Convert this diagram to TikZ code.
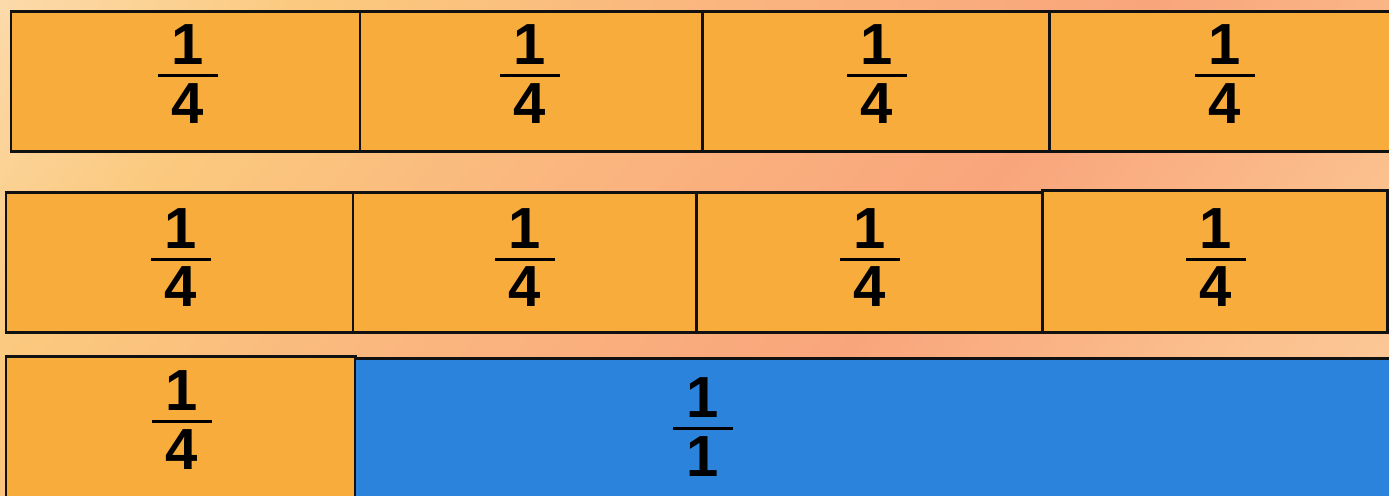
\documentclass[tikz,border=0pt]{standalone}
\usepackage{fontspec}
\setmainfont{Liberation Sans}
\usepackage{xcolor}
\usepackage{tikz}
\usetikzlibrary{positioning,calc}
\definecolor{naranja}{HTML}{F7AC3B}
\definecolor{azul}{HTML}{2B83DC}
\definecolor{borde}{HTML}{111111}
\definecolor{fondoa}{HTML}{FCDAAA}
\definecolor{fondob}{HTML}{FBC97E}
\definecolor{fondoc}{HTML}{FAB57E}
\definecolor{fondod}{HTML}{F9A57C}
\definecolor{fondoe}{HTML}{FBC08E}
\definecolor{fondof}{HTML}{FCCD9A}
\pgfdeclarehorizontalshading{fondo}{100bp}{color(0bp)=(fondoa); color(25bp)=(fondoa); color(33.7bp)=(fondob); color(45bp)=(fondoc); color(56.7bp)=(fondod); color(67.2bp)=(fondoe); color(75bp)=(fondof); color(100bp)=(fondof)}
\newcommand{\fraccion}[2]{\vbox{\offinterlineskip\halign{\hfil##\hfil\cr#1\cr\noalign{\kern5.5pt}\rule{34pt}{1.7pt}\cr\noalign{\kern3.5pt}#2\cr}}}
\tikzset{
  barra/.style={draw=borde,line width=1.7pt,fill=naranja,anchor=north west,inner sep=0pt,outer sep=0pt,minimum height=28mm},
  barraazul/.style={barra,fill=azul},
  cifra/.style={font=\fontsize{33}{36}\selectfont\bfseries,inner sep=0pt},
}

\begin{document}
\begin{tikzpicture}[x=0.2mm,y=-0.2mm]
  \useasboundingbox (0,0) rectangle (1389,495);
  \clip (0,0) rectangle (1389,495);
  % fondo
  \begin{scope}[transform canvas={rotate=-41}]
    \shade[shading=fondo] (0,-950) rectangle (1373,400);
  \end{scope}
  % fila 1
  \foreach \x/\w [count=\i] in {11/349,360/342,702/347,1049/346}
    \node[barra,minimum width=\w*0.2mm] (a\i) at (\x,11) {};
  \foreach \x [count=\i] in {188,530,877,1225}
    \node[cifra] (fa\i) at (\x,74) {\fraccion{1}{4}};
  % fila 2
  \foreach \x/\w [count=\i] in {6/347,353/343,696/346}
    \node[barra,minimum width=\w*0.2mm] (b\i) at (\x,192) {};
  \node[barra,minimum width=69mm,minimum height=28.4mm] (b4) at (1042,190) {};
  \foreach \x [count=\i] in {181,525,870,1216}
    \node[cifra] (fb\i) at (\x,257.5) {\fraccion{1}{4}};
  % fila 3
  \node[barra,minimum width=69.8mm,minimum height=28.8mm] (c1) at (6,356) {};
  \node[barraazul,minimum width=208mm,minimum height=28.4mm] (c2) at (355,358) {};
  \node[cifra] (fc1) at (182,420) {\fraccion{1}{4}};
  \node[cifra] (fc2) at (703,427) {\fraccion{1}{1}};
\end{tikzpicture}
\end{document}
